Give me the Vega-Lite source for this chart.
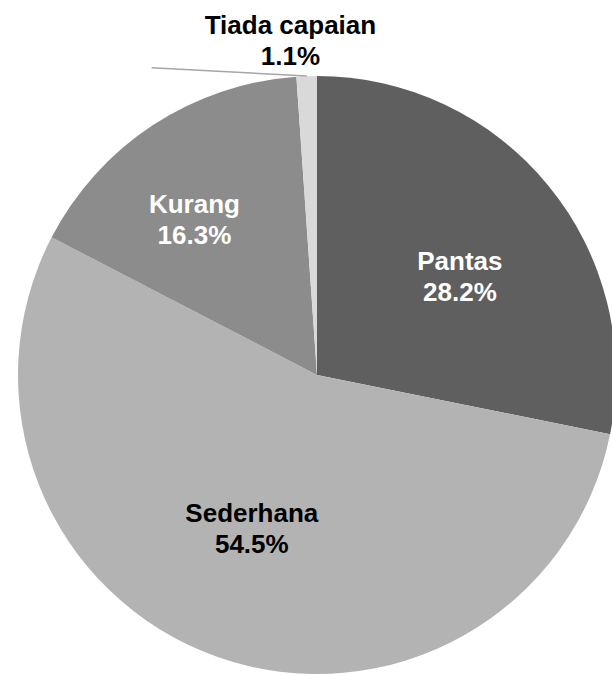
{
  "$schema": "https://vega.github.io/schema/vega-lite/v6.json",
  "width": 634,
  "height": 750,
  "autosize": {"type": "none"},
  "padding": 0,
  "background": "white",
  "config": {"view": {"stroke": null}},
  "layer": [
    {
      "data": {"values": [
        {"category": "Pantas", "pct": 28.2, "rank": 1},
        {"category": "Sederhana", "pct": 54.5, "rank": 2},
        {"category": "Kurang", "pct": 16.3, "rank": 3},
        {"category": "Tiada capaian", "pct": 1.1, "rank": 4}
      ]},
      "transform": [
        {"stack": "pct", "groupby": [], "sort": [{"field": "rank", "order": "ascending"}], "as": ["s0", "s1"]},
        {"calculate": "(datum.s0 + datum.s1) / 2", "as": "mid"},
        {"calculate": "datum.category + '\\n' + format(datum.pct, '.1f') + '%'", "as": "label"}
      ],
      "layer": [
        {
          "mark": {"type": "arc", "radius": 299},
          "encoding": {
            "theta": {"field": "s0", "type": "quantitative", "scale": {"domain": [0, 100.1]}},
            "theta2": {"field": "s1"},
            "color": {
              "field": "category", "type": "nominal",
              "scale": {"domain": ["Pantas", "Sederhana", "Kurang", "Tiada capaian"], "range": ["#5f5f5f", "#b3b3b3", "#8c8c8c", "#d9d9d9"]},
              "legend": null
            }
          }
        },
        {
          "transform": [{"filter": "datum.category === 'Pantas'"}],
          "mark": {"type": "text", "radius": 173, "dx": 9, "dy": -3, "fontSize": 26, "fontWeight": "bold", "font": "Liberation Sans", "lineHeight": 31, "color": "white", "lineBreak": "\n", "align": "center", "baseline": "middle"},
          "encoding": {
            "theta": {"field": "mid", "type": "quantitative", "scale": {"domain": [0, 100.1]}},
            "text": {"field": "label"}
          }
        },
        {
          "transform": [{"filter": "datum.category === 'Sederhana'"}],
          "mark": {"type": "text", "radius": 166, "dx": -10, "dy": -18, "fontSize": 26, "fontWeight": "bold", "font": "Liberation Sans", "lineHeight": 31, "color": "black", "lineBreak": "\n", "align": "center", "baseline": "middle"},
          "encoding": {
            "theta": {"field": "mid", "type": "quantitative", "scale": {"domain": [0, 100.1]}},
            "text": {"field": "label"}
          }
        },
        {
          "transform": [{"filter": "datum.category === 'Kurang'"}],
          "mark": {"type": "text", "radius": 198, "dx": -14, "dy": -4, "fontSize": 26, "fontWeight": "bold", "font": "Liberation Sans", "lineHeight": 31, "color": "white", "lineBreak": "\n", "align": "center", "baseline": "middle"},
          "encoding": {
            "theta": {"field": "mid", "type": "quantitative", "scale": {"domain": [0, 100.1]}},
            "text": {"field": "label"}
          }
        },
        {
          "transform": [{"filter": "datum.category === 'Tiada capaian'"}],
          "mark": {"type": "text", "radius": 335, "dx": -15, "dy": -14, "fontSize": 26, "fontWeight": "bold", "font": "Liberation Sans", "lineHeight": 31, "color": "black", "lineBreak": "\n", "align": "center", "baseline": "middle"},
          "encoding": {
            "theta": {"field": "mid", "type": "quantitative", "scale": {"domain": [0, 100.1]}},
            "text": {"field": "label"}
          }
        }
      ]
    },
    {
      "data": {"values": [{"ax": -0.553, "ay": 1.028, "bx": -0.034, "by": 1.0}]},
      "mark": {"type": "rule", "color": "#a6a6a6", "strokeWidth": 1.5},
      "encoding": {
        "x": {"field": "ax", "type": "quantitative", "scale": {"domain": [-1.0602, 1.0602]}, "axis": null},
        "x2": {"field": "bx"},
        "y": {"field": "ay", "type": "quantitative", "scale": {"domain": [-1.2542, 1.2542]}, "axis": null},
        "y2": {"field": "by"}
      }
    }
  ]
}
